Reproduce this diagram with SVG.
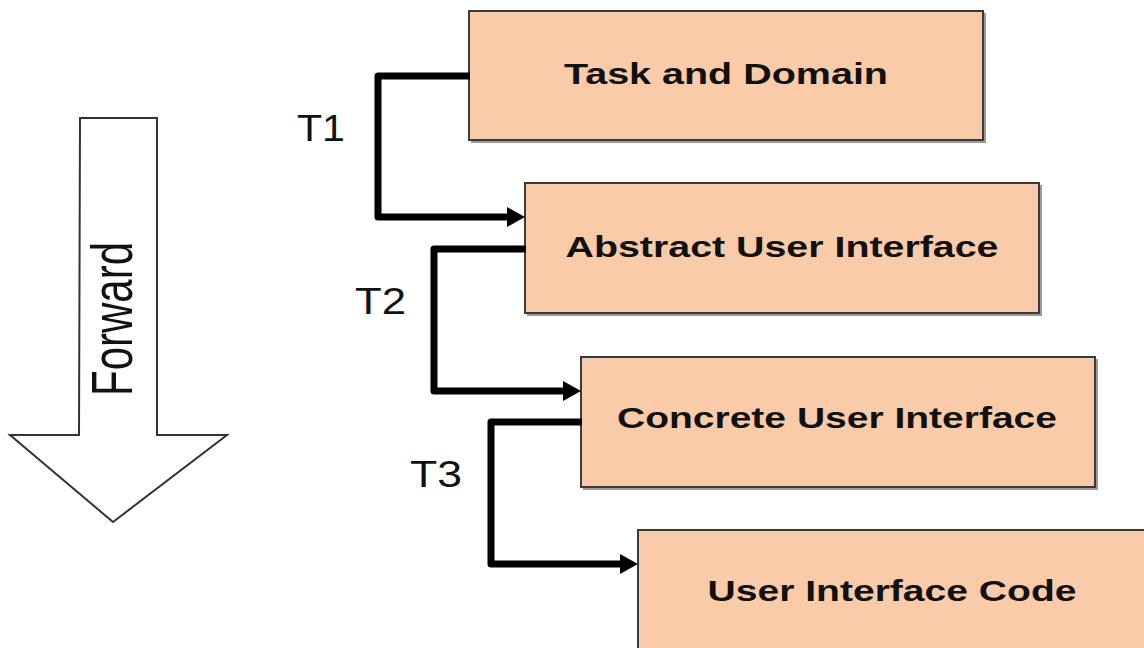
<svg xmlns="http://www.w3.org/2000/svg" width="1144" height="648" viewBox="0 0 1144 648">
  <style>
    .box { fill: #F9CBA8; stroke: #3a3a3a; stroke-width: 2; }
    .shadow { fill: none; stroke: #9a9a9a; stroke-width: 2; }
    .label { font-family: "Liberation Sans", Arial, sans-serif; font-weight: bold; font-size: 29px; fill: #111; text-anchor: middle; }
    .tlabel { font-family: "Liberation Sans", Arial, sans-serif; font-size: 37px; fill: #111; }
    .link { fill: none; stroke: #000; stroke-width: 7; stroke-linejoin: round; }
  </style>
  <defs>
    <marker id="head" markerUnits="userSpaceOnUse" markerWidth="18" markerHeight="20" refX="3" refY="10" orient="auto">
      <path d="M0,0 L18,10 L0,20 Z" fill="#000"/>
    </marker>
  </defs>

  <rect width="1144" height="648" fill="#fff"/>

  <!-- Direction arrow -->
  <g id="forward">
    <path d="M80,118 L157,118 L157,435 L227,435 L113,522 L10,435 L79,435 Z" fill="#fff" stroke="#333" stroke-width="2"/>
    <text transform="translate(132,319) scale(1.37,1) rotate(-90)" font-family="Liberation Sans, Arial, sans-serif" font-size="42" fill="#111" text-anchor="middle">Forward</text>
  </g>

  <!-- Model levels -->
  <g id="task-domain">
    <path class="shadow" d="M985,13 L985,142 L471,142"/>
    <rect class="box" x="469" y="11" width="514" height="129"/>
    <text class="label" x="726" y="84" textLength="324" lengthAdjust="spacingAndGlyphs">Task and Domain</text>
  </g>
  <g id="abstract-ui">
    <path class="shadow" d="M1041,185 L1041,315 L527,315"/>
    <rect class="box" x="525" y="183" width="514" height="130"/>
    <text class="label" x="782" y="257" textLength="433" lengthAdjust="spacingAndGlyphs">Abstract User Interface</text>
  </g>
  <g id="concrete-ui">
    <path class="shadow" d="M1097,359 L1097,489 L583,489"/>
    <rect class="box" x="581" y="357" width="514" height="130"/>
    <text class="label" x="837" y="428" textLength="440" lengthAdjust="spacingAndGlyphs">Concrete User Interface</text>
  </g>
  <g id="ui-code">
    <rect class="box" x="638" y="530" width="520" height="130"/>
    <text class="label" x="892" y="601" textLength="369" lengthAdjust="spacingAndGlyphs">User Interface Code</text>
  </g>

  <!-- Transformations -->
  <g id="connectors">
    <path class="link" d="M470,76 L378,76 L378,217 L510,217" marker-end="url(#head)"/>
    <path class="link" d="M526,249 L434,249 L434,391 L566,391" marker-end="url(#head)"/>
    <path class="link" d="M582,422 L491,422 L491,564 L623,564" marker-end="url(#head)"/>
  </g>

  <g id="transform-labels">
    <text class="tlabel" x="297" y="141" textLength="48" lengthAdjust="spacingAndGlyphs">T1</text>
    <text class="tlabel" x="355" y="314" textLength="51" lengthAdjust="spacingAndGlyphs">T2</text>
    <text class="tlabel" x="410" y="487" textLength="52" lengthAdjust="spacingAndGlyphs">T3</text>
  </g>
</svg>
